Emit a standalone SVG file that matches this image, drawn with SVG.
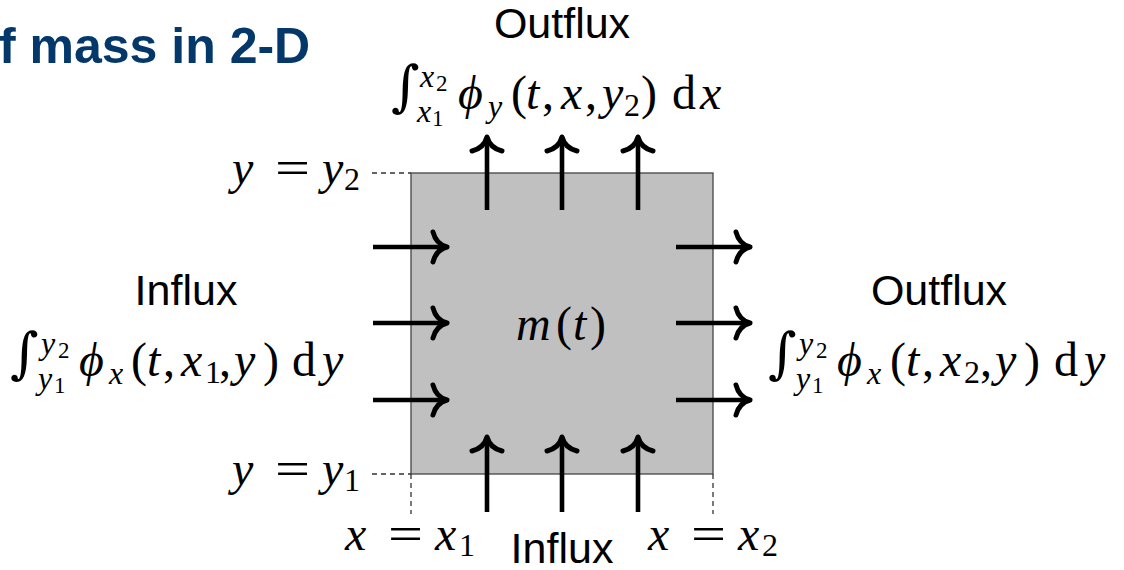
<svg xmlns="http://www.w3.org/2000/svg" width="1124" height="570" viewBox="0 0 1124 570">
<style>
.title{font-family:"Liberation Sans",Arial,sans-serif;font-weight:bold;font-size:50px;fill:#04386a}
.lbl{font-family:"Liberation Sans",Arial,sans-serif;font-size:43px;fill:#000}
.m{font-family:"Liberation Serif","Times New Roman",serif;font-size:48px;fill:#000}
.i{font-style:italic}
.s{font-size:32px}
.ss{font-size:23px}
.int{font-family:"DejaVu Serif",serif;font-size:55px}
.dash{stroke:#333;stroke-width:1.3;stroke-dasharray:5 4;fill:none}
.arr{stroke:#000;stroke-width:4.6;fill:none;marker-end:url(#to)}
</style>
<defs>
<marker id="to" markerUnits="userSpaceOnUse" markerWidth="40" markerHeight="40" refX="20" refY="20" orient="auto" overflow="visible">
<path d="M7,5 Q10,17 21,20 Q10,23 7,35" fill="none" stroke="#000" stroke-width="5" stroke-linecap="round" stroke-linejoin="round"/>
</marker>
</defs>
<text class="title" x="-1" y="63">f mass in 2-D</text>
<g id="volume">
<rect x="411" y="173" width="302" height="301" fill="#c0c0c0" stroke="#444" stroke-width="1.3"/>
<text class="m" y="340"><tspan class="i" x="516">m</tspan><tspan x="556">(</tspan><tspan class="i" x="573">t</tspan><tspan x="590">)</tspan></text>
</g>
<g id="guides">
<line class="dash" x1="372" y1="173" x2="411" y2="173"/>
<line class="dash" x1="372" y1="474" x2="411" y2="474"/>
<line class="dash" x1="411" y1="474" x2="411" y2="514"/>
<line class="dash" x1="713" y1="474" x2="713" y2="514"/>
<text class="m" y="184"><tspan class="i" x="232">y</tspan><tspan class="i" x="322">y</tspan><tspan class="s" x="344" dy="6">2</tspan></text>
<text class="m" x="275" y="184" textLength="35" lengthAdjust="spacingAndGlyphs">=</text>
<text class="m" y="485"><tspan class="i" x="232">y</tspan><tspan class="i" x="322">y</tspan><tspan class="s" x="344" dy="6">1</tspan></text>
<text class="m" x="275" y="485" textLength="35" lengthAdjust="spacingAndGlyphs">=</text>
<text class="m" y="550"><tspan class="i" x="345">x</tspan><tspan class="i" x="435">x</tspan><tspan class="s" x="459" dy="6">1</tspan></text>
<text class="m" x="388" y="550" textLength="35" lengthAdjust="spacingAndGlyphs">=</text>
<text class="m" y="550"><tspan class="i" x="648">x</tspan><tspan class="i" x="738">x</tspan><tspan class="s" x="762" dy="6">2</tspan></text>
<text class="m" x="691" y="550" textLength="35" lengthAdjust="spacingAndGlyphs">=</text>
</g>
<g id="connectors">
<line class="arr" x1="373" y1="247" x2="446" y2="247"/>
<line class="arr" x1="373" y1="323" x2="446" y2="323"/>
<line class="arr" x1="373" y1="400" x2="446" y2="400"/>
<line class="arr" x1="676" y1="247" x2="749" y2="247"/>
<line class="arr" x1="676" y1="323" x2="749" y2="323"/>
<line class="arr" x1="676" y1="400" x2="749" y2="400"/>
<line class="arr" x1="487" y1="210" x2="487" y2="138"/>
<line class="arr" x1="562" y1="210" x2="562" y2="138"/>
<line class="arr" x1="638" y1="210" x2="638" y2="138"/>
<line class="arr" x1="487" y1="512" x2="487" y2="438"/>
<line class="arr" x1="562" y1="512" x2="562" y2="438"/>
<line class="arr" x1="638" y1="512" x2="638" y2="438"/>
</g>
<g id="outflux-top">
<text class="lbl" x="562" y="38" text-anchor="middle">Outflux</text>
<text class="m" y="105"><tspan class="int" x="391">∫</tspan><tspan class="s i" x="420" dy="-18">x</tspan><tspan class="ss" x="436" dy="4">2</tspan><tspan class="s i" x="417" dy="31">x</tspan><tspan class="ss" x="432" dy="4">1</tspan><tspan class="i" x="458" dy="-17">ϕ</tspan><tspan class="s i" x="488" dy="8">y</tspan><tspan x="511" dy="-8">(</tspan><tspan class="i" x="526">t</tspan><tspan x="542">,</tspan><tspan class="i" x="561">x</tspan><tspan x="585">,</tspan><tspan class="i" x="602">y</tspan><tspan class="s" x="624" dy="7">2</tspan><tspan x="641" dy="-7">)</tspan><tspan x="672">d</tspan><tspan class="i" x="700">x</tspan></text>
</g>
<g id="influx-left">
<text class="lbl" x="186" y="305" text-anchor="middle">Influx</text>
<text class="m" y="372"><tspan class="int" x="10">∫</tspan><tspan class="s i" x="41" dy="-18">y</tspan><tspan class="ss" x="58" dy="4">2</tspan><tspan class="s i" x="38" dy="31">y</tspan><tspan class="ss" x="54" dy="4">1</tspan><tspan class="i" x="79" dy="-17">ϕ</tspan><tspan class="s i" x="109" dy="8">x</tspan><tspan x="131" dy="-8">(</tspan><tspan class="i" x="147">t</tspan><tspan x="163">,</tspan><tspan class="i" x="181">x</tspan><tspan class="s" x="205" dy="7">1</tspan><tspan x="219" dy="-7">,</tspan><tspan class="i" x="234">y</tspan><tspan x="263">)</tspan><tspan x="292">d</tspan><tspan class="i" x="322">y</tspan></text>
</g>
<g id="outflux-right">
<text class="lbl" x="939" y="305" text-anchor="middle">Outflux</text>
<text class="m" y="372"><tspan class="int" x="768">∫</tspan><tspan class="s i" x="799" dy="-18">y</tspan><tspan class="ss" x="816" dy="4">2</tspan><tspan class="s i" x="796" dy="31">y</tspan><tspan class="ss" x="812" dy="4">1</tspan><tspan class="i" x="837" dy="-17">ϕ</tspan><tspan class="s i" x="867" dy="8">x</tspan><tspan x="890" dy="-8">(</tspan><tspan class="i" x="906">t</tspan><tspan x="922">,</tspan><tspan class="i" x="940">x</tspan><tspan class="s" x="964" dy="7">2</tspan><tspan x="980" dy="-7">,</tspan><tspan class="i" x="995">y</tspan><tspan x="1024">)</tspan><tspan x="1054">d</tspan><tspan class="i" x="1084">y</tspan></text>
</g>
<g id="influx-bottom">
<text class="lbl" x="562" y="563" text-anchor="middle">Influx</text>
</g>
</svg>
